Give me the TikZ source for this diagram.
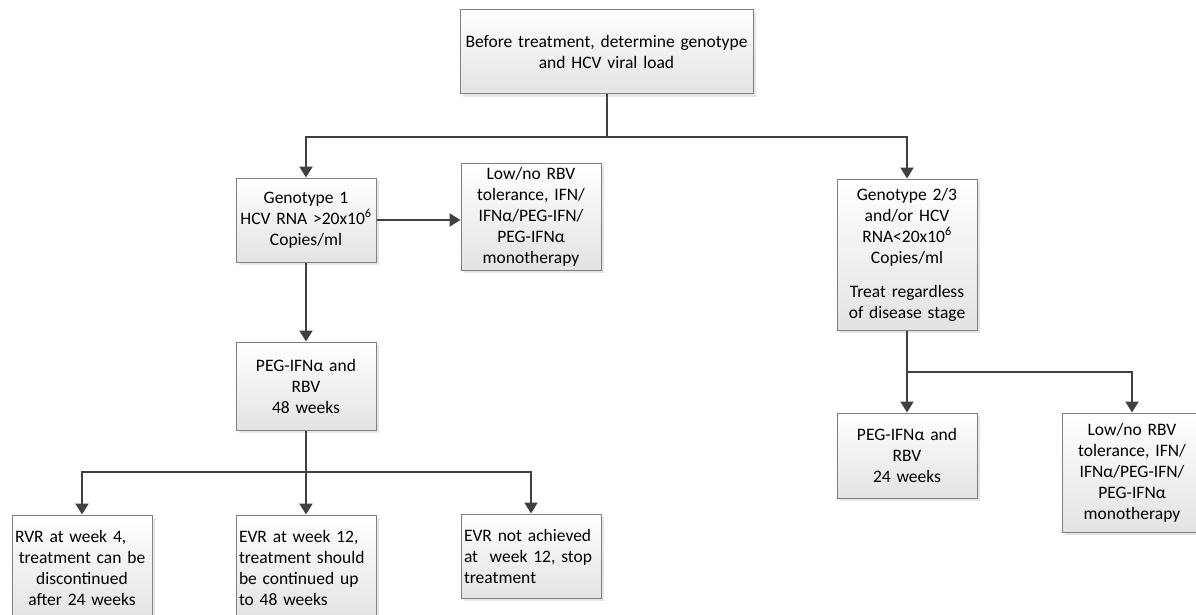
\documentclass[tikz,border=0pt]{standalone}
\usepackage{fontspec}
\setmainfont{Carlito}
\usetikzlibrary{arrows.meta,shadows,calc}
\definecolor{linec}{HTML}{404040}
\definecolor{boxb}{HTML}{7F7F7F}
\begin{document}
\begin{tikzpicture}[x=1pt,y=-1pt,
 box/.style={draw=boxb, line width=1pt, top color=white, bottom color=black!11,
   drop shadow={shadow xshift=3pt,shadow yshift=-3pt,fill=black!10,opacity=1},
   font=\fontsize{17.5}{21}\selectfont, align=center, inner sep=3pt, text=black, text width=134pt},
 conn/.style={draw=linec, line width=2pt},
 arr/.style={conn, -{Triangle[width=13pt,length=11pt]}}]
\useasboundingbox (0,0) rectangle (1196,615);

\node[box, text width=287pt, minimum height=84pt] (top) at (606.5,52) {Before treatment, determine genotype\\and HCV viral load};
\node[box, minimum height=84pt] (g1) at (306,220) {Genotype 1\\HCV RNA >20x10\textsuperscript{6}\\Copies/ml};
\node[box, minimum height=107pt] (low1) at (531,216.5) {Low/no RBV\\tolerance, IFN/\\IFNα/PEG-IFN/\\PEG-IFNα\\monotherapy};
\node[box, minimum height=151pt] (g23) at (907,254.5) {Genotype 2/3\\and/or HCV\\RNA<20x10\textsuperscript{6}\\Copies/ml\\[13pt]Treat regardless\\of disease stage};
\node[box, minimum height=88pt] (peg48) at (306,386) {PEG-IFNα and\\RBV\\48 weeks};
\node[box, minimum height=85pt] (peg24) at (907,455.5) {PEG-IFNα and\\RBV\\24 weeks};
\node[box, minimum height=119pt] (low2) at (1132,472.5) {Low/no RBV\\tolerance, IFN/\\IFNα/PEG-IFN/\\PEG-IFNα\\monotherapy};
\node[box, minimum height=105pt] (rvr) at (82,567.5) {\makebox[134pt][l]{RVR at week 4,}\\treatment can be\\discontinued\\after 24 weeks};
\node[box, align=left, minimum height=105pt] (evr) at (306,567.5) {EVR at week 12,\\treatment should\\be continued up\\to 48 weeks};
\node[box, align=left, minimum height=84pt] (evrn) at (531,556) {EVR not achieved\\at\ \ week 12, stop\\treatment};

\coordinate (j1) at (606.5,137);
\draw[conn] (top.south) -- (j1);
\draw[arr] (j1) -| (g1.north);
\draw[arr] (j1) -| (g23.north);
\draw[arr] (g1.east) -- (g1.east -| low1.west);
\draw[arr] (g1.south) -- (peg48.north);
\coordinate (j2) at (306,472);
\draw[conn] (peg48.south) -- (j2);
\draw[arr] (j2) -| (rvr.north);
\draw[arr] (j2) -- (evr.north);
\draw[arr] (j2) -| (evrn.north);
\coordinate (j3) at (907,372);
\draw[conn] (g23.south) -- (j3);
\draw[arr] (j3) -- (peg24.north);
\draw[arr] (j3) -| (low2.north);
\end{tikzpicture}
\end{document}
